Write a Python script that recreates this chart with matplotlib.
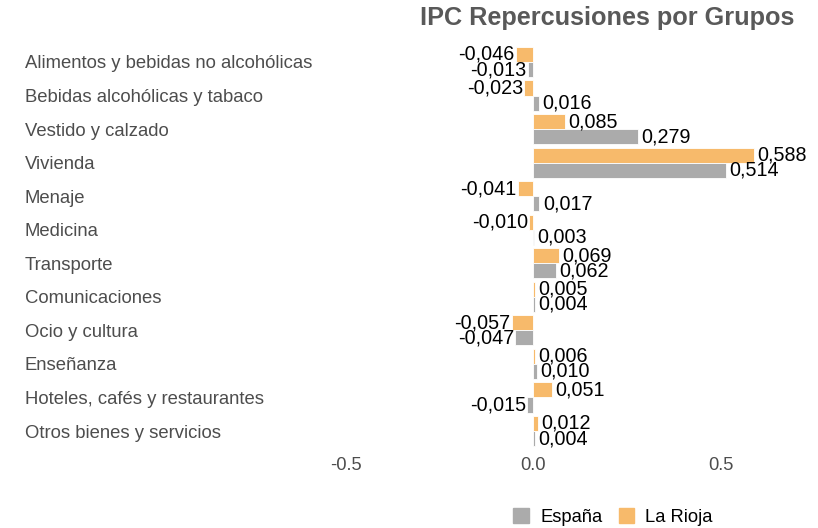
import matplotlib
matplotlib.use("Agg")
import matplotlib.pyplot as plt
from matplotlib.patches import Patch
import numpy as np

plt.rcParams['font.family'] = ['Liberation Sans', 'DejaVu Sans']

categories = ["Alimentos y bebidas no alcohólicas", "Bebidas alcohólicas y tabaco",
              "Vestido y calzado", "Vivienda", "Menaje", "Medicina", "Transporte",
              "Comunicaciones", "Ocio y cultura", "Enseñanza",
              "Hoteles, cafés y restaurantes", "Otros bienes y servicios"]
la_rioja = [-0.046, -0.023, 0.085, 0.588, -0.041, -0.010, 0.069, 0.005, -0.057, 0.006, 0.051, 0.012]
espana = [-0.013, 0.016, 0.279, 0.514, 0.017, 0.003, 0.062, 0.004, -0.047, 0.010, -0.015, 0.004]
xticks = [-0.5, 0.0, 0.5]
xtick_labels = ["-0.5", "0.0", "0.5"]

c_rioja = "#F7BA6B"
c_esp = "#ABABAB"

W, H = 818, 528
fig = plt.figure(figsize=(W/100, H/100), dpi=100)
left_px, right_px, top_px, bot_px = 25, 818, 40, 450
ax = fig.add_axes([left_px/W, 1 - bot_px/H, (right_px-left_px)/W, (bot_px-top_px)/H])

y = np.arange(len(categories))
bh = 0.45
ax.barh(y - bh/2, la_rioja, height=bh, color=c_rioja, edgecolor='white', linewidth=0.6, label="La Rioja")
ax.barh(y + bh/2, espana, height=bh, color=c_esp, edgecolor='white', linewidth=0.6, label="España")

off = 0.009
for vals, dy in ((la_rioja, -bh/2), (espana, bh/2)):
    for yi, v in zip(y, vals):
        s = f"{v:.3f}".replace('.', ',')
        if v >= 0:
            ax.text(v + off, yi + dy, s, ha='left', va='center', fontsize=14.2, color='black')
        else:
            ax.text(v - off*0.4, yi + dy, s, ha='right', va='center', fontsize=14.2, color='black')

scale = 375.0
ax.set_xlim(-(533 - left_px)/scale, (right_px - 533)/scale)
ax.set_ylim(11 + (bot_px - 431)/33.55, -(62 - top_px)/33.55)

ax.set_yticks(y)
ax.set_yticklabels(categories, fontsize=13.3, color='#4D4D4D', ha='left')
ax.tick_params(axis='y', length=0, pad=0)
ax.set_xticks(xticks)
ax.set_xticklabels(xtick_labels, fontsize=13.2, color='#4D4D4D')
ax.tick_params(axis='x', length=0, pad=5)
for sp in ax.spines.values():
    sp.set_visible(False)
ax.grid(False)

fig.text(607/W, 1 - 18/H, "IPC Repercusiones por Grupos", ha='center', va='center',
         fontsize=18.2, fontweight='bold', color='#595959')

handles = [Patch(color=c_esp, label="España"), Patch(color=c_rioja, label="La Rioja")]
fig.legend(handles=handles, loc='center', bbox_to_anchor=(613/W, 1 - 517/H), ncol=2,
           frameon=False, fontsize=13.2, handlelength=0.85, handleheight=0.85,
           handletextpad=0.6, columnspacing=0.9)

fig.savefig("out.png", dpi=100)
